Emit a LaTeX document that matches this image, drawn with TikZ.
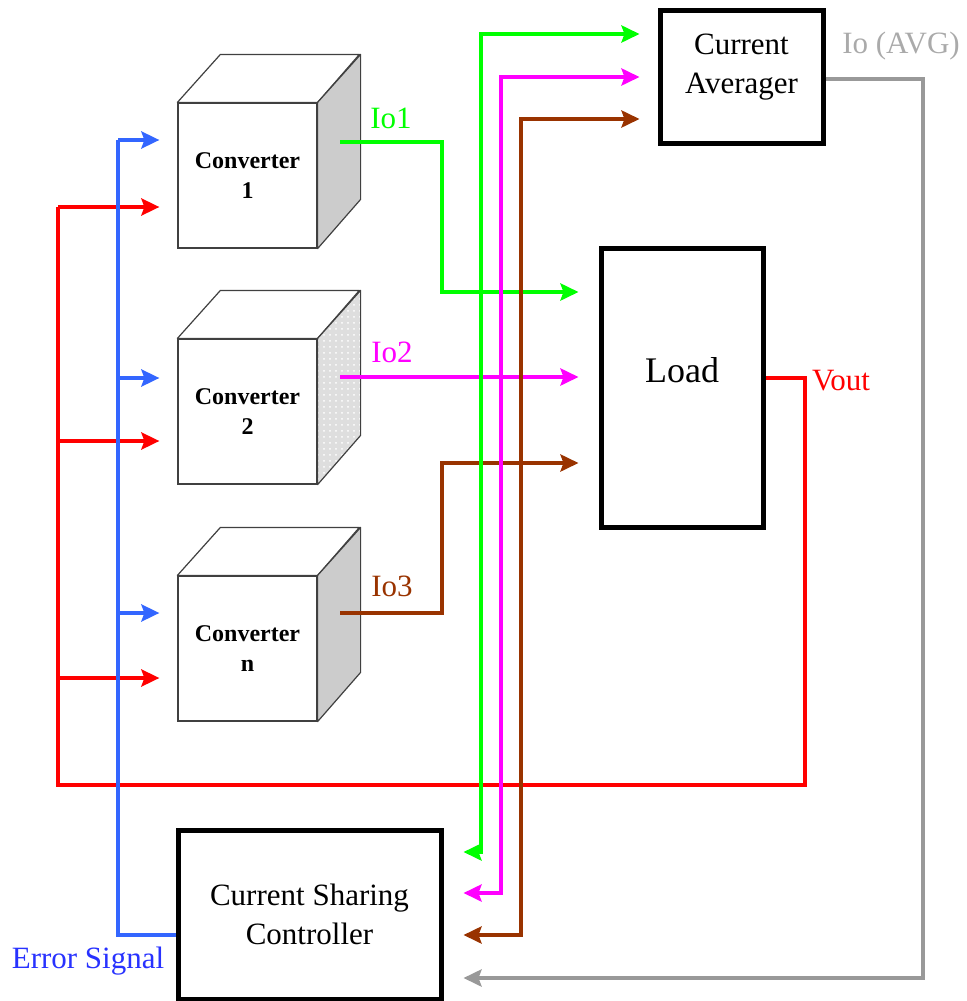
\documentclass[tikz,border=0pt]{standalone}
\usepackage{fontspec}
\setmainfont{Liberation Serif}
\usetikzlibrary{arrows.meta,patterns}
\definecolor{iogreen}{RGB}{0,255,0}
\definecolor{iomag}{RGB}{255,0,255}
\definecolor{iobrown}{RGB}{153,51,0}
\definecolor{errblue}{RGB}{51,102,255}
\definecolor{errtext}{RGB}{40,50,255}
\definecolor{avggray}{RGB}{153,153,153}
\definecolor{avgtext}{RGB}{170,170,170}

\begin{document}
\begin{tikzpicture}[x=0.5pt,y=-0.5pt,>={Stealth[length=9pt,width=8.5pt,inset=1.5pt]},
	wire/.style={line width=2pt},
	feed/.style={wire,->,shorten >=9pt},
	block/.style={draw,line width=2.5pt,fill=white,align=center,font=\fontsize{15.5}{19.5}\selectfont},
	face/.style={draw=black!75,line width=0.6pt,fill=white,minimum width=69.5pt,minimum height=72.5pt,align=center,font=\fontsize{12}{15}\selectfont\bfseries},
	edge/.style={draw=black!75,line width=0.6pt,line join=round},
	lab/.style={font=\fontsize{15.5}{19.5}\selectfont}]
			\useasboundingbox (0,0) rectangle (967,1001);

			\node[face] (conv1) at (247.5,175.5) {Converter\\1};
			\draw[edge,fill=white] (conv1.north west) -- ++(43,-48) -- ++(139,0) -- (conv1.north east) -- cycle;
			\draw[edge,fill=black!20] (conv1.north east) -- ++(43,-48) -- ++(0,145) -- (conv1.south east) -- cycle;
			\node[face] (conv2) at (247.5,411.5) {Converter\\2};
			\draw[edge,fill=white] (conv2.north west) -- ++(43,-48) -- ++(139,0) -- (conv2.north east) -- cycle;
			\fill[black!13] (conv2.north east) -- ++(43,-48) -- ++(0,145) -- (conv2.south east) -- cycle;
			\fill[pattern=dots,pattern color=white] (conv2.north east) -- ++(43,-48) -- ++(0,145) -- (conv2.south east) -- cycle;
			\draw[edge] (conv2.north east) -- ++(43,-48) -- ++(0,145) -- (conv2.south east) -- cycle;
			\node[face] (conv3) at (247.5,648.5) {Converter\\n};
			\draw[edge,fill=white] (conv3.north west) -- ++(43,-48) -- ++(139,0) -- (conv3.north east) -- cycle;
			\draw[edge,fill=black!20] (conv3.north east) -- ++(43,-48) -- ++(0,145) -- (conv3.south east) -- cycle;

			\node[block,minimum width=81.5pt,minimum height=66.5pt,label={[lab,align=center,yshift=4.5pt]center:Current\\Averager}] (avg) at (741.5,76.5) {};
			\node[block,minimum width=81pt,minimum height=139.5pt,label={[font=\fontsize{18}{22}\selectfont,yshift=8.75pt]center:Load}] (load) at (682,387.5) {};
			\node[block,minimum width=131.5pt,minimum height=84.5pt] (ctrl) at (309.5,914.5) {Current Sharing\\Controller};

			\draw[wire,red] ([yshift=4.75pt]load.east) -| (805,785) -- (58,785) -- (58,207);
			\draw[feed,red] (58,207) -- (conv1.west |- 0,207);
			\draw[feed,red] (58,441) -- (conv2.west |- 0,441);
			\draw[feed,red] (58,678) -- (conv3.west |- 0,678);

			\draw[wire,errblue] (ctrl.west |- 0,935) -| (118,140);
			\draw[feed,errblue] (118,140) -- (conv1.west |- 0,140);
			\draw[feed,errblue] (118,378) -- (conv2.west |- 0,378);
			\draw[feed,errblue] (118,613) -- (conv3.west |- 0,613);

			\draw[wire,iogreen,->,shorten >=10pt] (340,142) -| (442,292) -- (load.west |- 0,292);
			\draw[wire,iomag,->,shorten >=10pt] (340,377) -- (load.west |- 0,377);
			\draw[wire,iobrown,->,shorten >=10pt] (340,613) -| (442,463) -- (load.west |- 0,463);

			\draw[wire,iogreen,<->,shorten <=10pt,shorten >=9pt] (ctrl.east |- 0,852) -| (481,34) -- (avg.west |- 0,34);
			\draw[wire,iomag,<->,shorten <=10pt,shorten >=9pt] (ctrl.east |- 0,893) -| (501,77) -- (avg.west |- 0,77);
			\draw[wire,iobrown,<->,shorten <=10pt,shorten >=9pt] (ctrl.east |- 0,935) -| (521,119) -- (avg.west |- 0,119);
			\draw[wire,avggray,->,shorten >=10pt] (avg.east |- 0,79) -| (923,978) -- (ctrl.east |- 0,978);

			\node[lab,text=iogreen] (lio1) at (391,118) {Io1};
			\node[lab,text=iomag] (lio2) at (392,352) {Io2};
			\node[lab,text=iobrown] (lio3) at (392,586) {Io3};
			\node[lab,text=red] (lvout) at (841,381) {Vout};
			\node[lab,text=avgtext] (lavg) at (901,46) {Io (AVG)};
			\node[lab,text=errtext] (lerr) at (88,961) {Error Signal};
		\end{tikzpicture}
\end{document}
